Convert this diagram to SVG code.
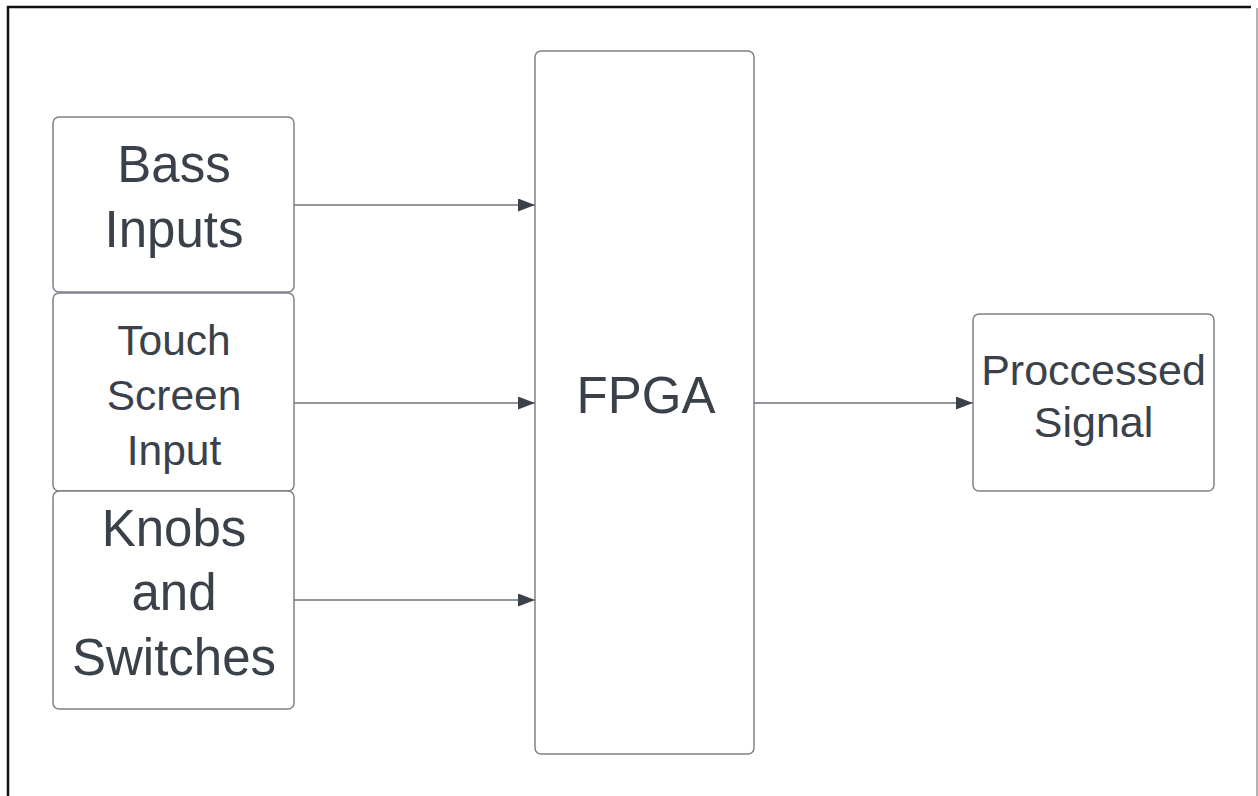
<svg xmlns="http://www.w3.org/2000/svg" width="1258" height="796" viewBox="0 0 1258 796">
  <style>
    .node rect { fill: #ffffff; stroke: #7d8188; stroke-width: 1.5; }
    .node text { font-family: "Liberation Sans", Arial, sans-serif; fill: #3a414a; text-anchor: middle; }
    .conn line { stroke: #6e737a; stroke-width: 1.5; }
  </style>
  <defs>
    <marker id="arrow" markerWidth="18" markerHeight="14" refX="17" refY="6.5" orient="auto" markerUnits="userSpaceOnUse">
      <path d="M0,0 L17,6.5 L0,13 Z" fill="#3a414a"/>
    </marker>
  </defs>
  <rect x="0" y="0" width="1258" height="796" fill="#ffffff"/>
  <g id="frame">
    <line x1="7" y1="7" x2="1251" y2="7" stroke="#111111" stroke-width="2.5"/>
    <line x1="8" y1="6" x2="8" y2="796" stroke="#111111" stroke-width="2.5"/>
    <line x1="1257" y1="8" x2="1257" y2="796" stroke="#9a9a9a" stroke-width="1.5"/>
  </g>
  <g class="conn" id="connectors">
    <line x1="294" y1="205" x2="535" y2="205" marker-end="url(#arrow)"/>
    <line x1="294" y1="403" x2="535" y2="403" marker-end="url(#arrow)"/>
    <line x1="294" y1="600" x2="535" y2="600" marker-end="url(#arrow)"/>
    <line x1="754" y1="403" x2="973" y2="403" marker-end="url(#arrow)"/>
  </g>
  <g class="node" id="bass-inputs">
    <rect x="53" y="117" width="241" height="175" rx="6"/>
    <text x="174" y="182" font-size="51">Bass</text>
    <text x="174" y="247" font-size="51">Inputs</text>
  </g>
  <g class="node" id="touch-screen-input">
    <rect x="53" y="293" width="241" height="198" rx="6"/>
    <text x="174" y="355" font-size="42.5">Touch</text>
    <text x="174" y="410" font-size="42.5">Screen</text>
    <text x="174" y="465" font-size="42.5">Input</text>
  </g>
  <g class="node" id="knobs-and-switches">
    <rect x="53" y="491" width="241" height="218" rx="6"/>
    <text x="174" y="546" font-size="51">Knobs</text>
    <text x="174" y="610" font-size="51">and</text>
    <text x="174" y="675" font-size="51">Switches</text>
  </g>
  <g class="node" id="fpga">
    <rect x="535" y="51" width="219" height="703" rx="6"/>
    <text x="646" y="413" font-size="51">FPGA</text>
  </g>
  <g class="node" id="processed-signal">
    <rect x="973" y="314" width="241" height="177" rx="6"/>
    <text x="1093.5" y="385" font-size="43">Proccessed</text>
    <text x="1093.5" y="437" font-size="43">Signal</text>
  </g>
</svg>
